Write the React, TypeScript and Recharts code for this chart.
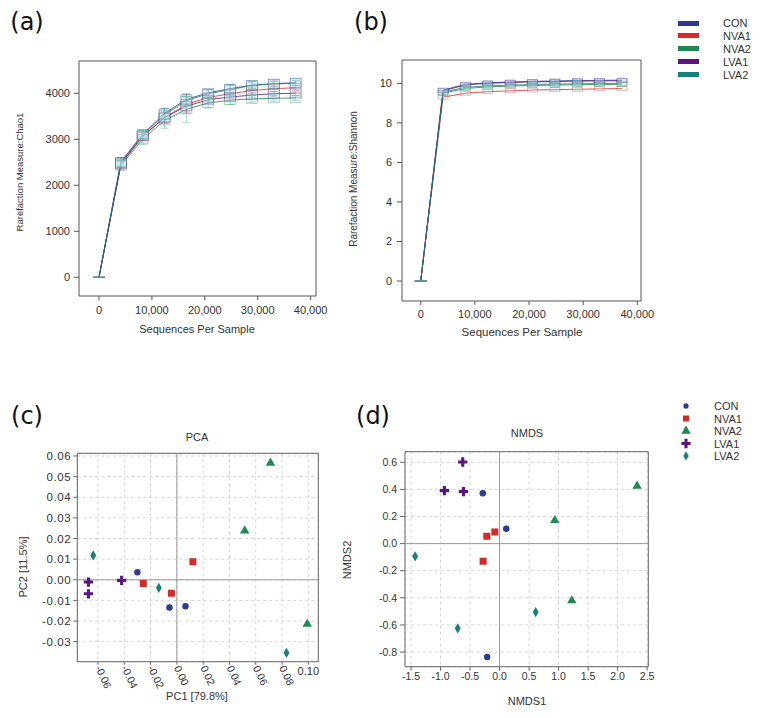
import React from 'react';
import {
  LineChart,
  Line,
  ScatterChart,
  Scatter,
  XAxis,
  YAxis,
  CartesianGrid,
  ReferenceArea,
  ReferenceLine,
  ErrorBar,
  Symbols,
} from 'recharts';

const FONT = '"Liberation Sans", Arial, sans-serif';

// groups and colours
const groups = ['CON', 'NVA1', 'NVA2', 'LVA1', 'LVA2'];
const groupColors = ['#2d3b8e', '#d42a2a', '#1d8a4f', '#5a1680', '#17807a'];
const groupShapes = ['circle', 'square', 'triangle', 'cross', 'diamond'];
const groupSizes = [33, 49, 38, 48, 30];

// rarefaction depth (sequences per sample)
const seqDepth = [0, 4130, 8260, 12390, 16520, 20650, 24780, 28910, 33040, 37170];
const seqTicks = [0, 10000, 20000, 30000, 40000];

// (a) Chao1
const chaoCON = [0, 2510, 3110, 3560, 3870, 4010, 4100, 4180, 4210, 4230];
const chaoNVA1 = [0, 2450, 3060, 3470, 3760, 3910, 3990, 4060, 4100, 4120];
const chaoNVA2 = [0, 2430, 3000, 3410, 3650, 3790, 3850, 3880, 3890, 3900];
const chaoLVA1 = [0, 2470, 3070, 3470, 3720, 3860, 3920, 3960, 3990, 4000];
const chaoLVA2 = [0, 2490, 3100, 3530, 3840, 3990, 4080, 4170, 4200, 4220];
const chaoErrCON = [0, 90, 80, 110, 120, 70, 90, 80, 60, 50];
const chaoErrNVA1 = [0, 80, 90, 130, 160, 90, 80, 70, 60, 50];
const chaoErrNVA2 = [0, 100, 110, 170, 280, 110, 90, 70, 60, 50];
const chaoErrLVA1 = [0, 70, 80, 120, 150, 80, 70, 60, 50, 50];
const chaoErrLVA2 = [0, 110, 100, 140, 130, 80, 100, 70, 60, 50];
const chaoTicks = [0, 1000, 2000, 3000, 4000];

// (b) Shannon
const shanCON = [0, 9.66, 9.95, 10.03, 10.07, 10.1, 10.12, 10.14, 10.15, 10.16];
const shanNVA1 = [0, 9.3, 9.5, 9.58, 9.62, 9.66, 9.68, 9.7, 9.72, 9.74];
const shanNVA2 = [0, 9.5, 9.74, 9.82, 9.86, 9.89, 9.91, 9.93, 9.94, 9.95];
const shanLVA1 = [0, 9.62, 9.92, 10.0, 10.04, 10.07, 10.09, 10.11, 10.12, 10.13];
const shanLVA2 = [0, 9.55, 9.8, 9.87, 9.91, 9.94, 9.96, 9.98, 9.99, 10.0];
const shanTicks = [0, 2, 4, 6, 8, 10];

// (c) PCA  [PC1, PC2]
const pcaCON = [[-0.030, 0.0037], [-0.0056, -0.0134], [0.0066, -0.0128]];
const pcaNVA1 = [[0.0122, 0.0087], [-0.0255, -0.0018], [-0.0041, -0.0065]];
const pcaNVA2 = [[0.0712, 0.0566], [0.0516, 0.0238], [0.0992, -0.0215]];
const pcaLVA1 = [[-0.0672, -0.0011], [-0.0672, -0.0068], [-0.042, -0.0003]];
const pcaLVA2 = [[-0.0636, 0.0118], [-0.0137, -0.0039], [0.0834, -0.0354]];
const pcaXTicks = [-0.06, -0.04, -0.02, 0, 0.02, 0.04, 0.06, 0.08, 0.1];
const pcaYTicks = [-0.03, -0.02, -0.01, 0, 0.01, 0.02, 0.03, 0.04, 0.05, 0.06];

// (d) NMDS  [NMDS1, NMDS2]
const nmdsCON = [[-0.284, 0.371], [0.114, 0.11], [-0.21, -0.837]];
const nmdsNVA1 = [[-0.216, 0.054], [-0.08, 0.086], [-0.278, -0.131]];
const nmdsNVA2 = [[2.33, 0.425], [0.935, 0.172], [1.224, -0.42]];
const nmdsLVA1 = [[-0.624, 0.602], [-0.935, 0.391], [-0.612, 0.384]];
const nmdsLVA2 = [[-1.43, -0.094], [0.612, -0.505], [-0.709, -0.625]];
const nmdsXTicks = [-1.5, -1.0, -0.5, 0, 0.5, 1.0, 1.5, 2.0, 2.5];
const nmdsYTicks = [-0.8, -0.6, -0.4, -0.2, 0, 0.2, 0.4, 0.6];

const chaoSeries = [chaoCON, chaoNVA1, chaoNVA2, chaoLVA1, chaoLVA2];
const chaoErr = [chaoErrCON, chaoErrNVA1, chaoErrNVA2, chaoErrLVA1, chaoErrLVA2];
const shanSeries = [shanCON, shanNVA1, shanNVA2, shanLVA1, shanLVA2];
const pcaSeries = [pcaCON, pcaNVA1, pcaNVA2, pcaLVA1, pcaLVA2];
const nmdsSeries = [nmdsCON, nmdsNVA1, nmdsNVA2, nmdsLVA1, nmdsLVA2];

const chaoRows = seqDepth.map((d, i) => {
  const row: any = { depth: d };
  groups.forEach((g, k) => {
    row[g] = chaoSeries[k][i];
    row[g + '_e'] = chaoErr[k][i];
  });
  return row;
});

const shanRows = seqDepth.map((d, i) => {
  const row: any = { depth: d };
  groups.forEach((g, k) => {
    row[g] = shanSeries[k][i];
  });
  return row;
});

const toPoints = (pairs: number[][]) => pairs.map(([x, y]) => ({ x, y }));

const tickStyle = { fontSize: 11, fill: '#333', fontFamily: FONT };
const fmtComma = (v: number) => v.toLocaleString('en-US');

/**
 * Box-like marker at each rarefaction step; the zero point gets a flat bar
 */
function BoxDot(props: any) {
  const { cx, cy, index, stroke, w, h } = props;
  if (cx == null || cy == null) return null;
  if (index === 0) {
    return <line x1={cx - 6} x2={cx + 6} y1={cy} y2={cy} stroke="#5b8f9a" strokeWidth={1} />;
  }
  return (
    <rect
      x={cx - w / 2}
      y={cy - h / 2}
      width={w}
      height={h}
      fill="#b4e2ea"
      fillOpacity={0.25}
      stroke={stroke}
      strokeOpacity={0.45}
      strokeWidth={0.7}
    />
  );
}

function PcaXTick({ x, y, payload }: any) {
  const v = payload.value as number;
  if (Math.abs(v - 0.1) < 1e-9) {
    return (
      <text x={x} y={y + 8} textAnchor="middle" fontSize={11} fill="#333" fontFamily={FONT}>
        0.10
      </text>
    );
  }
  const ax = x - 3;
  const ay = y + 1;
  return (
    <text
      x={ax}
      y={ay}
      textAnchor="start"
      transform={`rotate(65 ${ax} ${ay})`}
      fontSize={10.5}
      fill="#333"
      fontFamily={FONT}
    >
      {v.toFixed(2)}
    </text>
  );
}

function Txt({ x, y, size = 11, rotate = false, children, family = FONT, color = '#333' }: any) {
  return (
    <div
      style={{
        position: 'absolute',
        left: x,
        top: y,
        transform: `translate(-50%, -50%)${rotate ? ' rotate(-90deg)' : ''}`,
        fontFamily: family,
        fontSize: size,
        color,
        whiteSpace: 'nowrap',
        lineHeight: 1,
      }}
    >
      {children}
    </div>
  );
}

export default function App() {
  return (
    <div style={{ position: 'absolute', left: 0, top: 0, width: 762, height: 718, background: '#fff', overflow: 'hidden' }}>
      {/* panel letters */}
      <Txt x={27} y={22} size={24} family='"DejaVu Sans", sans-serif' color="#111">(a)</Txt>
      <Txt x={371} y={22} size={24} family='"DejaVu Sans", sans-serif' color="#111">(b)</Txt>
      <Txt x={27} y={416} size={24} family='"DejaVu Sans", sans-serif' color="#111">(c)</Txt>
      <Txt x={373} y={416} size={24} family='"DejaVu Sans", sans-serif' color="#111">(d)</Txt>

      {/* (a) Chao1 rarefaction */}
      <div style={{ position: 'absolute', left: 0, top: 40 }}>
        <LineChart width={340} height={300} data={chaoRows} margin={{ top: 21, right: 24, bottom: 14, left: 29 }}>
          <XAxis
            dataKey="depth"
            type="number"
            domain={[-3780, 41020]}
            ticks={seqTicks}
            allowDataOverflow
            axisLine={false}
            tickLine={{ stroke: '#555' }}
            tickSize={4}
            tickMargin={6}
            height={30}
            interval={0}
            tick={tickStyle}
            tickFormatter={fmtComma}
          />
          <YAxis
            type="number"
            domain={[-407, 4702]}
            ticks={chaoTicks}
            allowDataOverflow
            axisLine={false}
            tickLine={{ stroke: '#555' }}
            tickSize={5}
            tickMargin={4}
            width={50}
            interval={0}
            tick={tickStyle}
          />
          <ReferenceArea x1={-3780} x2={41020} y1={-407} y2={4702} fill="none" stroke="#555" strokeWidth={1} />
          {groups.map((g, k) => (
            <Line
              key={g}
              dataKey={g}
              type="linear"
              stroke={groupColors[k]}
              strokeWidth={1}
              strokeOpacity={0.8}
              isAnimationActive={false}
              activeDot={false}
              dot={(p: any) => <BoxDot key={`a-${g}-${p.index}`} {...p} w={11} h={9} />}
            >
              <ErrorBar dataKey={g + '_e'} width={4} stroke={groupColors[k]} strokeWidth={0.7} strokeOpacity={0.5} />
            </Line>
          ))}
        </LineChart>
      </div>
      <Txt x={20} y={172} size={9.5} rotate>Rarefaction Measure:Chao1</Txt>
      <Txt x={197} y={329} size={11}>Sequences Per Sample</Txt>

      {/* (b) Shannon rarefaction */}
      <div style={{ position: 'absolute', left: 340, top: 40 }}>
        <LineChart width={320} height={305} data={shanRows} margin={{ top: 20, right: 19, bottom: 14, left: 12 }}>
          <XAxis
            dataKey="depth"
            type="number"
            domain={[-3460, 40680]}
            ticks={seqTicks}
            allowDataOverflow
            axisLine={false}
            tickLine={{ stroke: '#555' }}
            tickSize={4}
            tickMargin={5}
            height={30}
            interval={0}
            tick={tickStyle}
            tickFormatter={fmtComma}
          />
          <YAxis
            type="number"
            domain={[-1.01, 11.18]}
            ticks={shanTicks}
            allowDataOverflow
            axisLine={false}
            tickLine={{ stroke: '#555' }}
            tickSize={5}
            tickMargin={5}
            width={50}
            interval={0}
            tick={tickStyle}
          />
          <ReferenceArea x1={-3460} x2={40680} y1={-1.01} y2={11.18} fill="none" stroke="#555" strokeWidth={1} />
          {groups.map((g, k) => (
            <Line
              key={g}
              dataKey={g}
              type="linear"
              stroke={groupColors[k]}
              strokeWidth={1}
              strokeOpacity={0.8}
              isAnimationActive={false}
              activeDot={false}
              dot={(p: any) => <BoxDot key={`b-${g}-${p.index}`} {...p} w={10} h={4} />}
            />
          ))}
        </LineChart>
      </div>
      <Txt x={354} y={179} size={10} rotate>Rarefaction Measure:Shannon</Txt>
      <Txt x={522} y={333} size={11.5}>Sequences Per Sample</Txt>

      {/* legend for (a) and (b) */}
      {groups.map((g, k) => (
        <div key={g} style={{ position: 'absolute', left: 678, top: 23 + k * 12.9, height: 0 }}>
          <div style={{ position: 'absolute', left: 0, top: -2.5, width: 21, height: 5, background: groupColors[k] }} />
          <div style={{ position: 'absolute', left: 45, top: -6, fontFamily: FONT, fontSize: 11, color: '#333', lineHeight: '12px' }}>{g}</div>
        </div>
      ))}

      {/* (c) PCA */}
      <div style={{ position: 'absolute', left: 0, top: 440 }}>
        <ScatterChart width={340} height={278} margin={{ top: 13.3, right: 21.7, bottom: 16.3, left: 27.3 }}>
          <CartesianGrid stroke="#d6d6d6" strokeDasharray="3 3" />
          <XAxis
            dataKey="x"
            type="number"
            domain={[-0.0757, 0.1076]}
            ticks={pcaXTicks}
            allowDataOverflow
            axisLine={false}
            tickLine={{ stroke: '#666' }}
            tickSize={3}
            tickMargin={2}
            height={40}
            interval={0}
            tick={<PcaXTick />}
          />
          <YAxis
            dataKey="y"
            type="number"
            domain={[-0.0397, 0.0613]}
            ticks={pcaYTicks}
            allowDataOverflow
            axisLine={false}
            tickLine={{ stroke: '#666' }}
            tickSize={4}
            tickMargin={2}
            width={50}
            interval={0}
            tick={{ ...tickStyle, fontSize: 11.5, letterSpacing: 0.6 }}
            tickFormatter={(v: number) => v.toFixed(2)}
          />
          <ReferenceLine x={0} stroke="#9a9a9a" />
          <ReferenceLine y={0} stroke="#9a9a9a" />
          <ReferenceArea x1={-0.0757} x2={0.1076} y1={-0.0397} y2={0.0613} fill="none" stroke="#666" strokeWidth={1} />
          {groups.map((g, k) => (
            <Scatter
              key={g}
              name={g}
              data={toPoints(pcaSeries[k])}
              isAnimationActive={false}
              shape={(p: any) => (
                <Symbols cx={p.cx} cy={p.cy} type={groupShapes[k] as any} size={groupSizes[k]} fill={groupColors[k]} />
              )}
            />
          ))}
        </ScatterChart>
      </div>
      <Txt x={197} y={437} size={11}>PCA</Txt>
      <Txt x={23} y={567} size={11} rotate>PC2 [11.5%]</Txt>
      <Txt x={197} y={696} size={11}>PC1 [79.8%]</Txt>

      {/* (d) NMDS */}
      <div style={{ position: 'absolute', left: 340, top: 440 }}>
        <ScatterChart width={330} height={278} margin={{ top: 11.7, right: 21.7, bottom: 21.3, left: 15 }}>
          <CartesianGrid stroke="#d6d6d6" strokeDasharray="3 3" />
          <XAxis
            dataKey="x"
            type="number"
            domain={[-1.602, 2.52]}
            ticks={nmdsXTicks}
            allowDataOverflow
            axisLine={false}
            tickLine={{ stroke: '#666' }}
            tickSize={4}
            tickMargin={2}
            height={30}
            interval={0}
            tick={{ ...tickStyle, fontSize: 10.5 }}
            tickFormatter={(v: number) => v.toFixed(1)}
          />
          <YAxis
            dataKey="y"
            type="number"
            domain={[-0.908, 0.678]}
            ticks={nmdsYTicks}
            allowDataOverflow
            axisLine={false}
            tickLine={{ stroke: '#666' }}
            tickSize={5}
            tickMargin={3}
            width={50}
            interval={0}
            tick={{ ...tickStyle, fontSize: 10.5 }}
            tickFormatter={(v: number) => v.toFixed(1)}
          />
          <ReferenceLine x={0} stroke="#9a9a9a" />
          <ReferenceLine y={0} stroke="#9a9a9a" />
          <ReferenceArea x1={-1.602} x2={2.52} y1={-0.908} y2={0.678} fill="none" stroke="#666" strokeWidth={1} />
          {groups.map((g, k) => (
            <Scatter
              key={g}
              name={g}
              data={toPoints(nmdsSeries[k])}
              isAnimationActive={false}
              shape={(p: any) => (
                <Symbols cx={p.cx} cy={p.cy} type={groupShapes[k] as any} size={groupSizes[k]} fill={groupColors[k]} />
              )}
            />
          ))}
        </ScatterChart>
      </div>
      <Txt x={527} y={433} size={11}>NMDS</Txt>
      <Txt x={347} y={560} size={11} rotate>NMDS2</Txt>
      <Txt x={527} y={701} size={11}>NMDS1</Txt>

      {/* legend for (c) and (d) */}
      <svg style={{ position: 'absolute', left: 676, top: 398 }} width={20} height={66}>
        {groups.map((g, k) => (
          <Symbols
            key={g}
            cx={10}
            cy={8 + k * 12.5}
            type={groupShapes[k] as any}
            size={[22, 36, 38, 48, 26][k]}
            fill={groupColors[k]}
          />
        ))}
      </svg>
      {groups.map((g, k) => (
        <div
          key={g}
          style={{ position: 'absolute', left: 714, top: 400 + k * 12.6, fontFamily: FONT, fontSize: 11, color: '#333', lineHeight: '12px' }}
        >
          {g}
        </div>
      ))}
    </div>
  );
}
